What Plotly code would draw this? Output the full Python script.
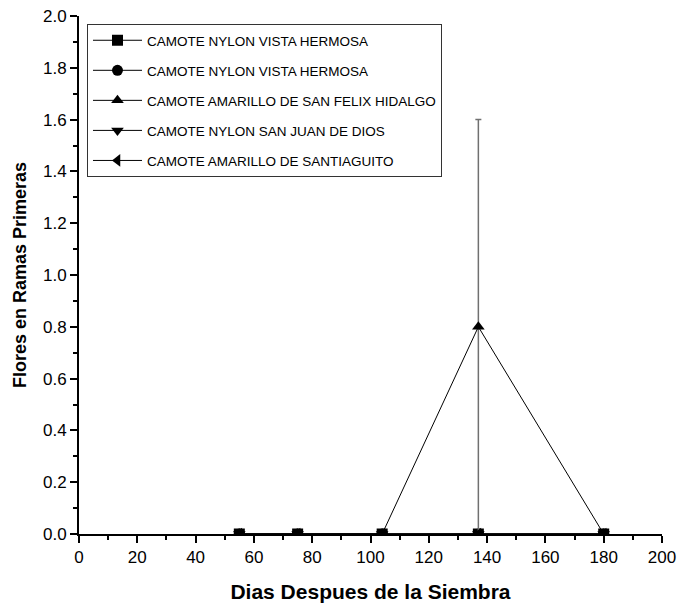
import plotly.graph_objects as go

dias = [55, 75, 104, 137, 180]
series_names = [
    "CAMOTE NYLON VISTA HERMOSA",
    "CAMOTE NYLON VISTA HERMOSA",
    "CAMOTE AMARILLO DE SAN FELIX HIDALGO",
    "CAMOTE NYLON SAN JUAN DE DIOS",
    "CAMOTE AMARILLO DE SANTIAGUITO",
]
vista_hermosa_1 = [0, 0, 0, 0, 0]
vista_hermosa_2 = [0, 0, 0, 0, 0]
san_felix = [0, 0, 0, 0.8, 0]
san_felix_err = [0, 0, 0, 0.8, 0]
san_juan = [0, 0, 0, 0, 0]
santiaguito = [0, 0, 0, 0, 0]

values = [vista_hermosa_1, vista_hermosa_2, san_felix, san_juan, santiaguito]
errors = [None, None, san_felix_err, None, None]
symbols = ["square", "circle", "triangle-up", "triangle-down", "triangle-left"]

FONT = "Liberation Sans, Arial, sans-serif"

fig = go.Figure()
for i, (name, vals, err, sym) in enumerate(zip(series_names, values, errors, symbols)):
    kw = {}
    if err is not None:
        kw["error_y"] = dict(type="data", array=err, symmetric=True,
                             color="#707070", thickness=1.5, width=3)
    fig.add_trace(go.Scatter(
        x=dias, y=vals, name=name, mode="lines+markers",
        line=dict(color="black", width=1),
        marker=dict(symbol=sym, size=11, color="black"),
        legendgroup=f"g{i}",
        **kw,
    ))

axis_common = dict(
    showline=True, linecolor="black", linewidth=2,
    ticks="outside", ticklen=7, tickwidth=2, tickcolor="black",
    showgrid=False, zeroline=False, mirror=False,
    ticklabeloverflow="allow",
    tickfont=dict(family=FONT, size=17, color="black"),
)

fig.update_xaxes(
    range=[0, 200], dtick=20, tick0=0,
    minor=dict(dtick=10, ticks="outside", ticklen=4, tickwidth=2, tickcolor="black"),
    title=dict(text="<b>Dias Despues de la Siembra</b>",
               font=dict(family=FONT, size=21, color="black"), standoff=18),
    **axis_common,
)
fig.update_yaxes(
    range=[0, 2.0], dtick=0.2, tick0=0, tickformat=".1f",
    minor=dict(dtick=0.1, ticks="outside", ticklen=4, tickwidth=2, tickcolor="black"),
    title=dict(text="<b>Flores en Ramas Primeras</b>",
               font=dict(family=FONT, size=18, color="black"), standoff=12),
    **axis_common,
)

fig.update_layout(
    width=678, height=614,
    margin=dict(l=79, r=16, t=16, b=80, autoexpand=False),
    plot_bgcolor="white", paper_bgcolor="white",
    font=dict(family=FONT, color="black"),
    showlegend=True,
    legend=dict(
        x=0.0137, y=0.9846, xanchor="left", yanchor="top",
        bgcolor="white", bordercolor="#333333", borderwidth=1,
        font=dict(family=FONT, size=13.5, color="black"),
        tracegroupgap=9.5, itemwidth=49,
    ),
)

fig.write_html(
    "out.html",
    config={"displayModeBar": False},
    post_script="document.body.style.margin='0';document.body.style.overflow='hidden';",
)
